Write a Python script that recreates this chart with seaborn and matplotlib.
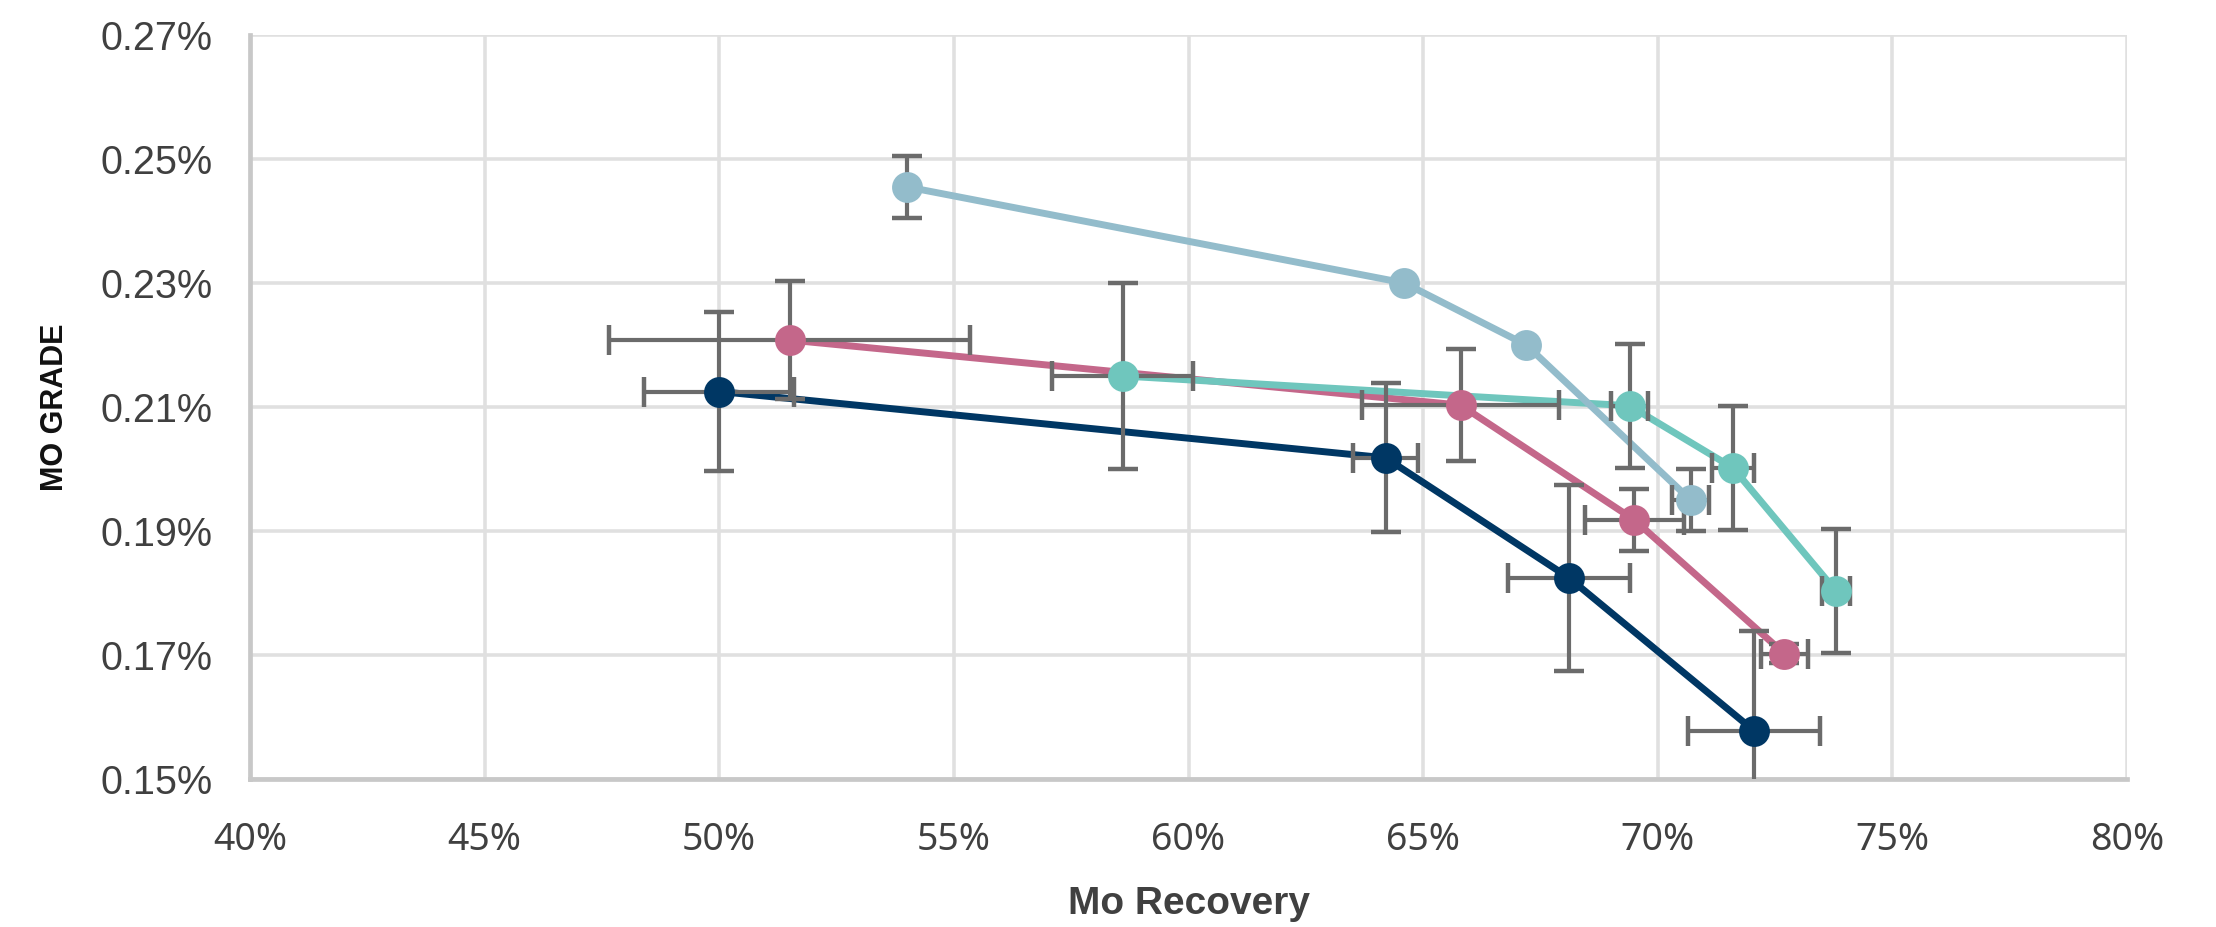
import matplotlib
matplotlib.use("Agg")
import matplotlib.pyplot as plt
import seaborn as sns
import numpy as np
import pandas as pd
from matplotlib.ticker import FuncFormatter

# ---- data (values in %) ----
navy_x = [50.0, 64.2, 68.1, 72.05]
navy_y = [0.2125, 0.2018, 0.1825, 0.1578]
navy_xerr = [1.6, 0.7, 1.3, 1.4]
navy_yerr = [0.0128, 0.012, 0.015, 0.016]

pink_x = [51.5, 65.8, 69.5, 72.7]
pink_y = [0.2208, 0.2103, 0.1918, 0.1702]
pink_xerr = [3.85, 2.1, 1.05, 0.5]
pink_yerr = [0.0095, 0.009, 0.005, 0.0015]

teal_x = [58.6, 69.4, 71.6, 73.8]
teal_y = [0.2150, 0.2102, 0.2002, 0.1803]
teal_xerr = [1.5, 0.4, 0.45, 0.3]
teal_yerr = [0.015, 0.010, 0.010, 0.010]

blue_x = [54.0, 64.6, 67.2, 70.7]
blue_y = [0.2455, 0.2300, 0.2200, 0.1950]
blue_xerr = [0.0, 0.0, 0.0, 0.4]
blue_yerr = [0.005, 0.0, 0.0, 0.005]

series_names = ["Series A", "Series B", "Series C", "Series D"]
colors = ["#003764", "#c4678a", "#6fc6bd", "#93bccb"]

x_ticks = [40, 45, 50, 55, 60, 65, 70, 75, 80]
y_ticks = [0.15, 0.17, 0.19, 0.21, 0.23, 0.25, 0.27]

all_x = [navy_x, pink_x, teal_x, blue_x]
all_y = [navy_y, pink_y, teal_y, blue_y]
all_xe = [navy_xerr, pink_xerr, teal_xerr, blue_xerr]
all_ye = [navy_yerr, pink_yerr, teal_yerr, blue_yerr]

frames = []
for name, xs, ys in zip(series_names, all_x, all_y):
    frames.append(pd.DataFrame({"series": name, "x": xs, "y": ys}))
df = pd.concat(frames, ignore_index=True)

sns.set_theme(style="white")
plt.rcParams["font.family"] = ["Liberation Sans", "DejaVu Sans"]

fig = plt.figure(figsize=(22.16, 9.27), dpi=100)
ax = fig.add_axes([250 / 2216, 1 - 779 / 927, (2127 - 250) / 2216, (779 - 35) / 927])

z_lines = {"Series A": 3, "Series B": 2, "Series C": 2.5, "Series D": 2.8}
for name, col in zip(series_names, colors):
    sub = df[df["series"] == name]
    sns.lineplot(data=sub, x="x", y="y", sort=False, color=col, linewidth=5.0,
                 ax=ax, zorder=z_lines[name], legend=False, estimator=None)

for xs, ys, xe, ye in zip(all_x, all_y, all_xe, all_ye):
    xe_arr = np.array(xe, dtype=float)
    ye_arr = np.array(ye, dtype=float)
    ax.errorbar(xs, ys, xerr=np.where(xe_arr > 0, xe_arr, np.nan),
                yerr=np.where(ye_arr > 0, ye_arr, np.nan),
                fmt="none", ecolor="#6b6b6b", elinewidth=3.0, capsize=11,
                capthick=3.2, zorder=4)

for name, col in zip(series_names, colors):
    sub = df[df["series"] == name]
    sns.scatterplot(data=sub, x="x", y="y", color=col, s=430, edgecolor=col,
                    linewidth=1.5, ax=ax, zorder=5, legend=False)

ax.set_xlim(40, 80)
ax.set_ylim(0.15, 0.27)
ax.set_xticks(x_ticks)
ax.set_yticks(y_ticks)
ax.xaxis.set_major_formatter(FuncFormatter(lambda v, p: f"{v:.0f}%"))
ax.yaxis.set_major_formatter(FuncFormatter(lambda v, p: f"{v:.2f}%"))

ax.grid(True, color="#e0e0e0", linewidth=2.6)
ax.set_axisbelow(True)
for s in ["top", "right"]:
    ax.spines[s].set_visible(False)
for s in ["left", "bottom"]:
    ax.spines[s].set_color("#c8c8c8")
    ax.spines[s].set_linewidth(3.4)
    ax.spines[s].set_zorder(1)

ax.tick_params(axis="both", length=0)
ax.tick_params(axis="x", pad=30, labelsize=27, labelcolor="#404040")
ax.tick_params(axis="y", pad=27, labelsize=28.5, labelcolor="#404040")
for lbl in ax.get_xticklabels():
    lbl.set_family(["Noto Sans", "DejaVu Sans"])

ax.set_xlabel("Mo Recovery", fontsize=28, fontweight="bold", color="#404040", labelpad=20)
ax.set_ylabel("MO GRADE", fontsize=22, fontweight="bold", color="#111111", labelpad=0)
ax.yaxis.set_label_coords((70 - 250) / (2127 - 250), 0.5)

fig.savefig("out.png", dpi=100, facecolor="white")
